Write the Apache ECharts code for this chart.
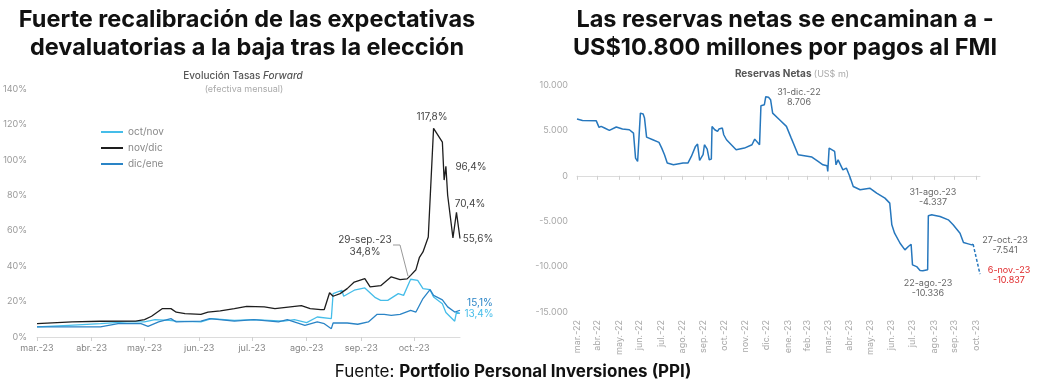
<!DOCTYPE html>
<html><head><meta charset="utf-8">
<script src="https://cdn.jsdelivr.net/npm/echarts@6/dist/echarts.min.js"></script>
<style>html,body{margin:0;padding:0;background:#fff}#c{width:1042px;height:386px}</style>
</head><body><div id="c"></div>
<script>
// ---------- Left chart data (Evolución Tasas Forward, % efectiva mensual) ----------
const leftMonthTicks = ['2023-03-01','2023-04-01','2023-05-01','2023-06-01','2023-07-01','2023-08-01','2023-09-01','2023-10-01'];
const leftMonthLabels = ['mar.-23','abr.-23','may.-23','jun.-23','jul.-23','ago.-23','sep.-23','oct.-23'];
const seriesNames = ['oct/nov','nov/dic','dic/ene'];

const octNov = [['2023-03-01',5.7],['2023-03-19',6.6],['2023-04-06',7.5],['2023-04-21',8.5],['2023-05-01',8.5],['2023-05-07',9.8],['2023-05-15',9.4],['2023-05-19',9],['2023-06-02',8.5],['2023-06-08',10.4],['2023-06-21',9.4],['2023-07-02',9.8],['2023-07-19',9],['2023-07-25',9.8],['2023-08-01',8.1],['2023-08-07',11.3],['2023-08-15',10.4],['2023-08-16',24.5],['2023-08-21',26.4],['2023-08-22',23],['2023-08-28',26.4],['2023-09-03',27.7],['2023-09-09',22.2],['2023-09-12',20.7],['2023-09-16',20.7],['2023-09-22',24.5],['2023-09-25',23.5],['2023-09-29',32.6],['2023-10-03',32],['2023-10-06',27.3],['2023-10-10',26.7],['2023-10-12',22.6],['2023-10-17',18.8],['2023-10-19',13.8],['2023-10-20',13.2],['2023-10-24',8.9],['2023-10-25',14.1],['2023-10-27',13.4]];

const novDic = [['2023-03-01',7.5],['2023-03-21',8.5],['2023-04-06',8.9],['2023-04-26',9],['2023-05-01',9.8],['2023-05-05',11.7],['2023-05-11',16],['2023-05-16',16],['2023-05-19',14],['2023-05-24',13.2],['2023-06-02',12.8],['2023-06-06',14],['2023-06-13',14.7],['2023-06-21',16],['2023-06-28',17.3],['2023-07-08',17],['2023-07-14',16],['2023-07-19',16.6],['2023-07-29',17.7],['2023-08-03',16],['2023-08-09',15.5],['2023-08-11',15.5],['2023-08-14',25],['2023-08-16',23],['2023-08-20',24.5],['2023-08-24',27.3],['2023-08-28',31],['2023-08-31',32],['2023-09-03',33],['2023-09-06',28.3],['2023-09-12',29],['2023-09-18',34],['2023-09-23',32.4],['2023-09-27',32.8],['2023-09-29',34.8],['2023-10-02',38],['2023-10-04',45],['2023-10-06',48],['2023-10-09',56.5],['2023-10-12',117.8],['2023-10-17',110],['2023-10-18',88.6],['2023-10-19',96.4],['2023-10-20',80],['2023-10-23',56],['2023-10-25',70.4],['2023-10-27',55.6]];

const dicEne = [['2023-03-01',5.7],['2023-03-19',5.7],['2023-04-06',5.7],['2023-04-16',7.5],['2023-04-29',7.5],['2023-05-03',6],['2023-05-09',8.5],['2023-05-16',10.4],['2023-05-19',8.5],['2023-06-02',9],['2023-06-07',10.4],['2023-06-21',9],['2023-07-02',9.8],['2023-07-16',8.5],['2023-07-21',9.8],['2023-07-31',6.6],['2023-08-07',8.5],['2023-08-11',7.5],['2023-08-15',4.7],['2023-08-16',7.9],['2023-08-24',7.9],['2023-08-30',7.2],['2023-09-05',8.5],['2023-09-10',12.8],['2023-09-14',12.8],['2023-09-18',12.2],['2023-09-23',12.8],['2023-09-29',15],['2023-10-02',14.1],['2023-10-06',21.7],['2023-10-10',26.7],['2023-10-12',23.5],['2023-10-17',21],['2023-10-20',17],['2023-10-24',14.1],['2023-10-25',15],['2023-10-27',15.1]];

// ---------- Right chart data (Reservas Netas, US$ m) ----------
const rightMonthTicks = ['2022-03-31','2022-04-30','2022-05-31','2022-06-30','2022-07-31','2022-08-31','2022-09-30','2022-10-31','2022-11-30','2022-12-31','2023-01-31','2023-02-28','2023-03-31','2023-04-30','2023-05-31','2023-06-30','2023-07-31','2023-08-31','2023-09-30','2023-10-31'];
const rightMonthLabels = ['mar.-22','abr.-22','may.-22','jun.-22','jul.-22','ago.-22','sep.-22','oct.-22','nov.-22','dic.-22','ene.-23','feb.-23','mar.-23','abr.-23','may.-23','jun.-23','jul.-23','ago.-23','sep.-23','oct.-23'];

const reservas = [['2022-03-31',6250],['2022-04-08',6100],['2022-04-28',6050],['2022-04-29',5900],['2022-05-02',5330],['2022-05-05',5440],['2022-05-10',5260],['2022-05-17',5000],['2022-05-27',5370],['2022-06-05',5150],['2022-06-15',5070],['2022-06-21',4700],['2022-06-24',1950],['2022-06-27',1580],['2022-06-29',1760],['2022-07-01',6900],['2022-07-05',6800],['2022-07-07',6360],['2022-07-10',4260],['2022-07-19',3970],['2022-07-28',3680],['2022-08-01',3050],['2022-08-05',2320],['2022-08-09',1400],['2022-08-18',1210],['2022-09-01',1400],['2022-09-08',1400],['2022-09-13',2130],['2022-09-19',3240],['2022-09-22',3490],['2022-09-25',1690],['2022-09-30',2320],['2022-10-02',3420],['2022-10-06',2940],['2022-10-09',1760],['2022-10-12',1840],['2022-10-13',5440],['2022-10-17',5070],['2022-10-21',4890],['2022-10-23',5150],['2022-10-28',5260],['2022-10-30',4520],['2022-11-03',3970],['2022-11-10',3420],['2022-11-17',2870],['2022-11-29',3050],['2022-12-10',3420],['2022-12-14',4040],['2022-12-21',3420],['2022-12-23',7720],['2022-12-28',7830],['2022-12-30',8706],['2023-01-03',8650],['2023-01-06',8380],['2023-01-09',6900],['2023-01-19',6180],['2023-01-29',5440],['2023-02-05',4150],['2023-02-15',2320],['2023-03-07',2060],['2023-03-16',1580],['2023-03-23',1210],['2023-03-29',1100],['2023-03-30',480],['2023-04-01',3050],['2023-04-09',2680],['2023-04-11',1210],['2023-04-14',1760],['2023-04-21',660],['2023-04-26',850],['2023-05-01',-70],['2023-05-06',-1180],['2023-05-16',-1540],['2023-05-30',-1360],['2023-06-09',-1910],['2023-06-21',-2460],['2023-06-28',-3010],['2023-07-01',-5400],['2023-07-05',-6320],['2023-07-13',-7430],['2023-07-20',-8160],['2023-07-25',-7790],['2023-07-29',-7540],['2023-07-31',-9810],['2023-08-06',-10000],['2023-08-11',-10440],['2023-08-15',-10450],['2023-08-22',-10336],['2023-08-23',-4400],['2023-08-28',-4300],['2023-08-31',-4337],['2023-09-09',-4480],['2023-09-21',-4850],['2023-09-28',-5400],['2023-10-08',-6320],['2023-10-13',-7350],['2023-10-20',-7500],['2023-10-25',-7610],['2023-10-27',-7541]];
const reservasProj = [['2023-10-27',-7541],['2023-11-06',-10837]];

// ---------- helpers ----------
function ts(s){const p=s.split('-').map(Number);return Date.UTC(p[0],p[1]-1,p[2]);}
function toXY(arr){return arr.map(function(d){return [ts(d[0]),d[1]];});}
function lookup(ticks, labels){const t=ticks.map(ts);return function(v){for(let i=0;i<t.length;i++){if(Math.abs(t[i]-v)<43200000)return labels[i];}return '';};}
function fmtNum(v){const s=String(Math.abs(v)).replace(/\B(?=(\d{3})+(?!\d))/g,'.');return (v<0?'-':'')+s;}

const FONT='Inter';
const C_LIGHT='#45bde9', C_BLACK='#1e1e1e', C_MID='#2a84c6', C_RES='#2677bd';

function txt(x,y,text,opt){opt=opt||{};return {type:'text',x:x,y:y,silent:true,style:Object.assign({text:text,fontFamily:FONT,fontSize:10,fill:'#444',align:'center',verticalAlign:'middle'},opt)};}

const chart = echarts.init(document.getElementById('c'), null, {renderer:'canvas'});
chart.setOption({
  animation:false,
  backgroundColor:'#fff',
  textStyle:{fontFamily:FONT},
  grid:[
    {left:35, top:89, width:425, height:248},
    {left:577, top:85, width:403, height:227}
  ],
  legend:{
    data:seriesNames, left:96, top:120, orient:'vertical', icon:'rect', itemWidth:22, itemHeight:2, itemGap:2,
    textStyle:{color:'#8a8a8a', fontSize:10, fontFamily:FONT, lineHeight:14}, selectedMode:false
  },
  xAxis:[
    {gridIndex:0, type:'value', min:ts('2023-03-01'), max:ts('2023-10-27'),
     axisLine:{lineStyle:{color:'#dcdcdc'}},
     axisTick:{show:true, length:4, customValues:leftMonthTicks.map(ts), lineStyle:{color:'#d0d0d0'}},
     axisLabel:{customValues:leftMonthTicks.map(ts), formatter:lookup(leftMonthTicks,leftMonthLabels), fontSize:9, color:'#858585', margin:7, hideOverlap:false},
     splitLine:{show:false}},
    {gridIndex:1, type:'value', position:'bottom', min:ts('2022-03-31'), max:ts('2023-11-06'),
     axisLine:{show:false, onZero:false}, axisTick:{show:false},
     axisLabel:{customValues:rightMonthTicks.map(ts), formatter:lookup(rightMonthTicks,rightMonthLabels), rotate:90, fontSize:9, color:'#a8a8a8', margin:8, hideOverlap:false},
     splitLine:{show:false}},
    {gridIndex:1, type:'value', position:'top', min:ts('2022-03-31'), max:ts('2023-11-06'),
     axisLine:{show:true, onZero:true, lineStyle:{color:'#dcdcdc'}},
     axisTick:{show:true, inside:true, length:4, customValues:rightMonthTicks.map(ts), lineStyle:{color:'#d0d0d0'}},
     axisLabel:{show:false}, splitLine:{show:false}}
  ],
  yAxis:[
    {gridIndex:0, type:'value', min:0, max:140, interval:20,
     axisLine:{show:false}, axisTick:{show:false}, splitLine:{show:false},
     axisLabel:{formatter:'{value}%', fontSize:9, color:'#9a9a9a', margin:10}},
    {gridIndex:1, type:'value', min:-15000, max:10000, interval:5000,
     axisLine:{show:false}, axisTick:{show:false}, splitLine:{show:false},
     axisLabel:{formatter:fmtNum, fontSize:9, color:'#a8a8a8', margin:9}}
  ],
  series:[
    {name:'oct/nov', type:'line', xAxisIndex:0, yAxisIndex:0, data:toXY(octNov), symbol:'none', color:C_LIGHT, lineStyle:{width:1.3, color:C_LIGHT}},
    {name:'nov/dic', type:'line', xAxisIndex:0, yAxisIndex:0, data:toXY(novDic), symbol:'none', color:C_BLACK, lineStyle:{width:1.3, color:C_BLACK}},
    {name:'dic/ene', type:'line', xAxisIndex:0, yAxisIndex:0, data:toXY(dicEne), symbol:'none', color:C_MID, lineStyle:{width:1.3, color:C_MID}},
    {name:'Reservas Netas', type:'line', xAxisIndex:1, yAxisIndex:1, data:toXY(reservas), symbol:'none', color:C_RES, lineStyle:{width:1.5, color:C_RES}},
    {name:'Proyección', type:'line', xAxisIndex:1, yAxisIndex:1, data:toXY(reservasProj), symbol:'none', color:C_RES, lineStyle:{width:1.5, color:C_RES, type:[3,2]}}
  ],
  graphic:[
    txt(247,20,'Fuerte recalibración de las expectativas',{fontSize:23.5,fontWeight:'bold',fill:'#111'}),
    txt(247,48,'devaluatorias a la baja tras la elección',{fontSize:23.5,fontWeight:'bold',fill:'#111'}),
    txt(785,20,'Las reservas netas se encaminan a -',{fontSize:23.5,fontWeight:'bold',fill:'#111'}),
    txt(785,48,'US$10.800 millones por pagos al FMI',{fontSize:23.5,fontWeight:'bold',fill:'#111'}),
    {type:'text', x:243, y:76, silent:true, style:{text:'{a|Evolución Tasas }{b|Forward}', align:'center', verticalAlign:'middle',
      rich:{a:{fontFamily:FONT,fontSize:10,fontWeight:500,fill:'#555'}, b:{fontFamily:FONT,fontSize:10,fontWeight:500,fontStyle:'italic',fill:'#555'}}}},
    txt(244,89,'(efectiva mensual)',{fontSize:9,fill:'#aaa'}),
    {type:'text', x:792, y:74, silent:true, style:{text:'{a|Reservas Netas }{b|(US$ m)}', align:'center', verticalAlign:'middle',
      rich:{a:{fontFamily:FONT,fontSize:10,fontWeight:'bold',fill:'#555'}, b:{fontFamily:FONT,fontSize:9,fill:'#aaa'}}}},
    txt(432,117,'117,8%'), txt(471,167,'96,4%'), txt(470,204,'70,4%'), txt(478,239,'55,6%'),
    txt(365,240,'29-sep.-23'), txt(365,252,'34,8%'),
    {type:'polyline', silent:true, shape:{points:[[393,245],[400,245],[408,276]]}, style:{stroke:'#999',lineWidth:1,fill:null}},
    txt(480,303,'15,1%',{fill:C_MID}), txt(479,314,'13,4%',{fill:C_LIGHT}),
    txt(799,92,'31-dic.-22',{fontSize:9,fill:'#666'}), txt(799,102,'8.706',{fontSize:9,fill:'#666'}),
    txt(933,192,'31-ago.-23',{fontSize:9,fill:'#666'}), txt(933,202,'-4.337',{fontSize:9,fill:'#666'}),
    txt(928,283,'22-ago.-23',{fontSize:9,fill:'#666'}), txt(928,293,'-10.336',{fontSize:9,fill:'#666'}),
    txt(1005,240,'27-oct.-23',{fontSize:9,fill:'#666'}), txt(1005,250,'-7.541',{fontSize:9,fill:'#666'}),
    txt(1009,270,'6-nov.-23',{fontSize:9,fill:'#e0282a'}), txt(1009,280,'-10.837',{fontSize:9,fill:'#e0282a'}),
    {type:'text', x:513, y:372, silent:true, style:{text:'{a|Fuente: }{b|Portfolio Personal Inversiones (PPI)}', align:'center', verticalAlign:'middle',
      rich:{a:{fontFamily:FONT,fontSize:17,fill:'#111'}, b:{fontFamily:FONT,fontSize:17,fontWeight:'bold',fill:'#111'}}}}
  ]
});
</script></body></html>
